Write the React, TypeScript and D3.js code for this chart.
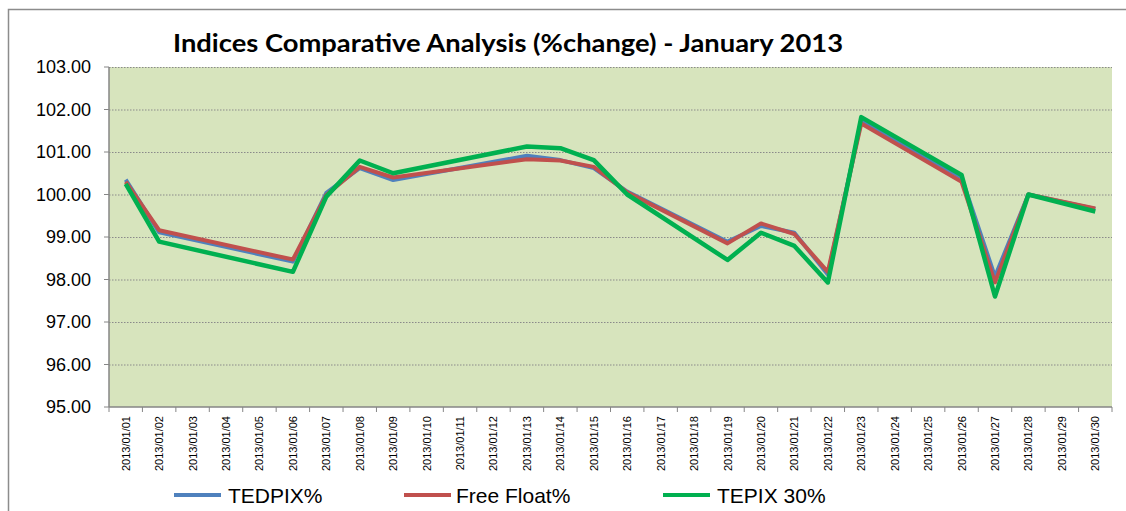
import React from 'react';
import * as d3 from 'd3';

const dates = [
  '2013/01/01', '2013/01/02', '2013/01/03', '2013/01/04', '2013/01/05',
  '2013/01/06', '2013/01/07', '2013/01/08', '2013/01/09', '2013/01/10',
  '2013/01/11', '2013/01/12', '2013/01/13', '2013/01/14', '2013/01/15',
  '2013/01/16', '2013/01/17', '2013/01/18', '2013/01/19', '2013/01/20',
  '2013/01/21', '2013/01/22', '2013/01/23', '2013/01/24', '2013/01/25',
  '2013/01/26', '2013/01/27', '2013/01/28', '2013/01/29', '2013/01/30',
];

// null = no trading that day (line just connects over it)
const tedpix = [
  100.35, 99.11, null, null, null, 98.42, 100.04, 100.62, 100.34, null,
  null, null, 100.91, 100.81, 100.62, 100.07, null, null, 98.89, 99.26,
  99.10, 98.12, 101.73, null, null, 100.40, 98.07, 100.0, null, 99.66,
];
const freeFloat = [
  100.3, 99.16, null, null, null, 98.47, 99.99, 100.65, 100.4, null,
  null, null, 100.83, 100.8, 100.65, 100.05, null, null, 98.85, 99.32,
  99.07, 98.18, 101.67, null, null, 100.3, 97.93, 100.0, null, 99.67,
];
const tepix30 = [
  100.25, 98.89, null, null, null, 98.18, 99.95, 100.8, 100.5, null,
  null, null, 101.13, 101.09, 100.81, 100.0, null, null, 98.46, 99.1,
  98.79, 97.93, 101.82, null, null, 100.46, 97.6, 100.0, null, 99.6,
];
const yTicks = [95, 96, 97, 98, 99, 100, 101, 102, 103];

const series = [
  { name: 'TEDPIX%', values: tedpix, color: '#4F81BD', width: 4 },
  { name: 'Free Float%', values: freeFloat, color: '#C0504D', width: 4 },
  { name: 'TEPIX 30%', values: tepix30, color: '#00B050', width: 4.5 },
];

const W = 1126;
const H = 511;
const plot = { left: 109, right: 1112, top: 67, bottom: 407 };

export default function App() {
  const x = d3.scaleBand().domain(dates).range([plot.left, plot.right]);
  const y = d3.scaleLinear().domain([95, 103]).range([plot.bottom, plot.top]);
  const cx = (d: string) => (x(d) as number) + x.bandwidth() / 2;

  const line = d3
    .line<{ d: string; v: number }>()
    .x((p) => cx(p.d))
    .y((p) => y(p.v));

  const fmt = d3.format('.2f');
  const axisColor = '#868686';

  const legendItems = [
    { lx: 174, tx: 228 },
    { lx: 404, tx: 456 },
    { lx: 663, tx: 717 },
  ];

  return (
    <svg
      width={W}
      height={H}
      style={{ position: 'absolute', left: 0, top: 0, background: '#fff' }}
      fontFamily="'Liberation Sans', Arial, sans-serif"
    >
      {/* chart border (cut off at right/bottom) */}
      <path d={`M8.5,${H} V9.5 H${W}`} fill="none" stroke="#8c8c8c" strokeWidth={1.5} />

      <text
        x={508}
        y={52}
        textAnchor="middle"
        fontFamily="Lato, 'Open Sans', sans-serif"
        fontWeight="bold"
        fontSize={24}
        textLength={670}
        lengthAdjust="spacingAndGlyphs"
      >
        Indices Comparative Analysis (%change) - January 2013
      </text>

      <rect
        x={plot.left}
        y={plot.top}
        width={plot.right - plot.left}
        height={plot.bottom - plot.top}
        fill="#D7E4BD"
      />

      {yTicks.slice(1).map((t) => (
        <line
          key={'g' + t}
          x1={plot.left}
          x2={plot.right}
          y1={y(t) + 0.5}
          y2={y(t) + 0.5}
          stroke="#8a8a8a"
          strokeWidth={1}
          strokeDasharray="1.5,1.5"
        />
      ))}

      {/* y axis */}
      <line x1={plot.left} x2={plot.left} y1={plot.top} y2={plot.bottom} stroke={axisColor} strokeWidth={1.5} />
      {yTicks.map((t) => (
        <g key={'y' + t}>
          <line x1={plot.left - 5} x2={plot.left} y1={y(t)} y2={y(t)} stroke={axisColor} strokeWidth={1} />
          <text x={91} y={y(t)} dy="0.35em" textAnchor="end" fontSize={18}>
            {fmt(t)}
          </text>
        </g>
      ))}

      {/* x axis */}
      <line x1={plot.left} x2={plot.right} y1={plot.bottom} y2={plot.bottom} stroke={axisColor} strokeWidth={1.5} />
      {dates.map((d, i) => (
        <g key={d}>
          <line
            x1={(x(d) as number) + x.bandwidth()}
            x2={(x(d) as number) + x.bandwidth()}
            y1={plot.bottom}
            y2={plot.bottom + 5}
            stroke={axisColor}
          />
          {i === 0 && (
            <line x1={plot.left} x2={plot.left} y1={plot.bottom} y2={plot.bottom + 5} stroke={axisColor} />
          )}
          <text
            transform={`translate(${cx(d) + 4},${plot.bottom + 9}) rotate(-90)`}
            textAnchor="end"
            fontSize={11}
          >
            {d}
          </text>
        </g>
      ))}

      {series.map((s) => {
        const pts = dates
          .map((d, i) => ({ d, v: s.values[i] as number }))
          .filter((p) => p.v !== null);
        return (
          <path
            key={s.name}
            d={line(pts) as string}
            fill="none"
            stroke={s.color}
            strokeWidth={s.width}
            strokeLinejoin="round"
          />
        );
      })}

      {series.map((s, i) => (
        <g key={'l' + s.name}>
          <line
            x1={legendItems[i].lx}
            x2={legendItems[i].lx + 47}
            y1={495}
            y2={495}
            stroke={s.color}
            strokeWidth={4}
          />
          <text x={legendItems[i].tx} y={503} fontSize={21}>
            {s.name}
          </text>
        </g>
      ))}
    </svg>
  );
}
